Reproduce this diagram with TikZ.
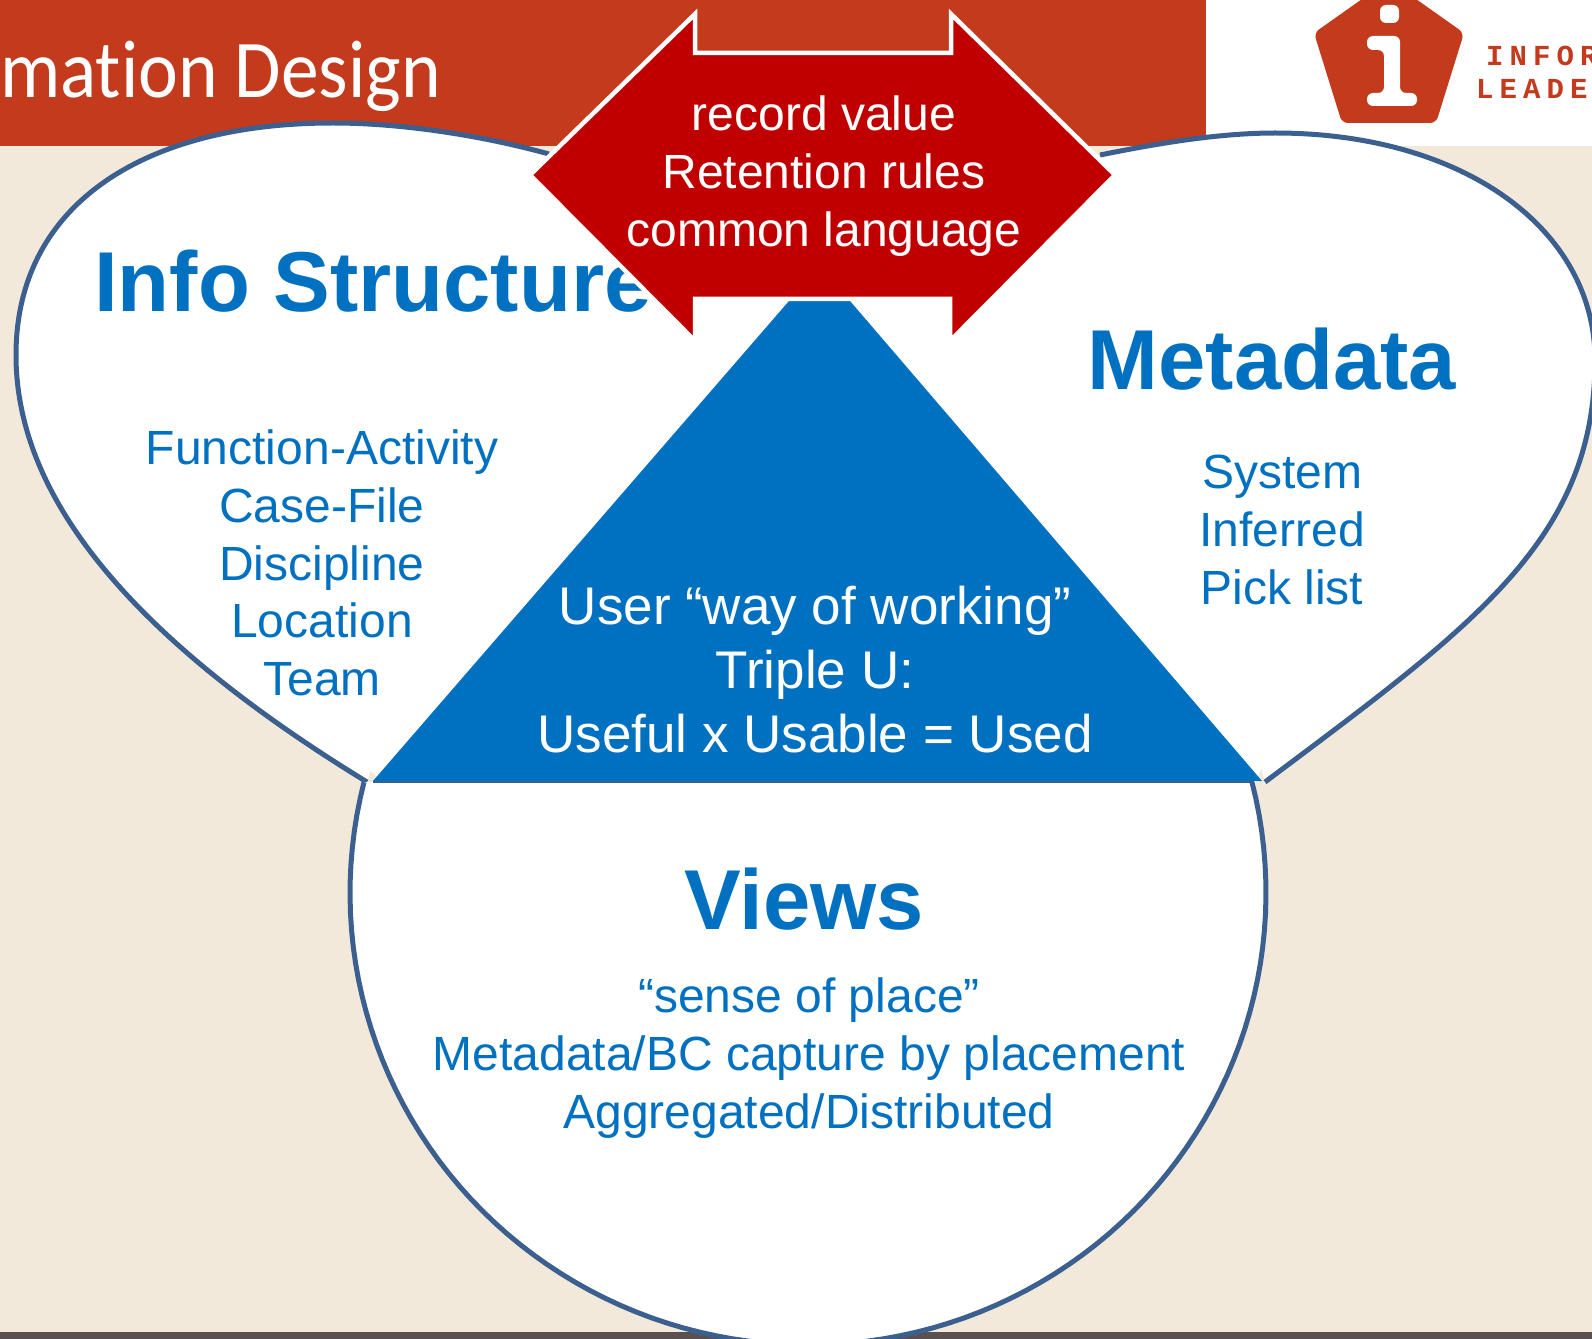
\documentclass[tikz,border=0pt]{standalone}
\usepackage{fontspec}
\setmainfont{Liberation Sans}
\newfontfamily\titlefont[FakeStretch=0.92,Ligatures=NoCommon]{Carlito}
\newfontfamily\logofont[LetterSpace=21]{Liberation Mono}
\definecolor{bannerred}{HTML}{C33A1C}
\definecolor{beige}{HTML}{F2E9DA}
\definecolor{barcol}{HTML}{5A5050}
\definecolor{lobeline}{HTML}{3B5F8F}
\definecolor{ablue}{HTML}{0070C0}
\definecolor{darkred}{HTML}{C00000}
\tikzset{
  lobe/.style={draw=lobeline,line width=5bp,fill=white},
  headtext/.style={text=ablue,anchor=base,inner sep=0pt,font=\fontsize{85bp}{100bp}\selectfont\bfseries},
  bodytext/.style={text=ablue,align=center,inner sep=0pt,font=\fontsize{48bp}{57.6bp}\selectfont},
  logotext/.style={anchor=base west,inner sep=0pt,text=bannerred,font=\fontsize{29bp}{29bp}\logofont\bfseries},
}
\begin{document}
\begin{tikzpicture}[x=1bp,y=-1bp]
\useasboundingbox (0,0) rectangle (1592,1339);
\fill[beige] (0,0) rectangle (1592,1339);
\fill[barcol] (0,1332) rectangle (1592,1339);
\fill[white] (1206,0) rectangle (1592,146);
\fill[bannerred] (0,0) rectangle (1206,146);
% logo
\fill[bannerred,rounded corners=6bp] (1389,-20) -- (1464,33) -- (1436,123) -- (1342,123) -- (1314,33) -- cycle;
\fill[white,rounded corners=6bp] (1380,5) rectangle (1399,23);
\fill[white,rounded corners=6bp] (1367,36) -- (1400,36) -- (1400,93) -- (1417,93) -- (1417,106) -- (1367,106) -- (1367,93) -- (1384,93) -- (1384,50) -- (1367,50) -- cycle;
\node[logotext] (logoa) at (1486,66) {INFOR};
\node[logotext] (logob) at (1476,99) {LEADE};
% title
\node[anchor=base east,inner sep=0pt,text=white,font=\fontsize{82bp}{82bp}\titlefont] (title) at (441,98) {mation Design};
% white interior
\fill[white] (340,740) -- (500,160) -- (1150,160) -- (1300,660) -- (1250,800) -- (400,800) -- cycle;
% lobes
\path[lobe] (367,782) .. controls (112,626) and (16,485) .. (16,355)
  .. controls (16,205) and (143,123) .. (333,123)
  .. controls (400,123) and (480,135) .. (549,154);
\path[lobe] (1265,782) .. controls (1473,626) and (1595,540) .. (1595,360)
  .. controls (1595,230) and (1465,133) .. (1275,133)
  .. controls (1215,133) and (1150,145) .. (1100,155);
\path[lobe] plot[domain=194.2:-14.2,samples=100] ({808+458*cos(\x)},{893+452*sin(\x)});
% headings and lists
\node[headtext,anchor=base west] (infohead) at (94,312) {Info Structure};
\node[headtext] (metahead) at (1272,389) {Metadata};
\node[headtext] (viewhead) at (804,929) {Views};
\node[bodytext] (infolist) at (322,563) {Function-Activity\\Case-File\\Discipline\\Location\\Team};
\node[bodytext] (metalist) at (1282,530) {System\\Inferred\\Pick list};
\node[bodytext] (viewlist) at (809,1058) {“sense of place”\\Metadata/BC capture by placement\\Aggregated/Distributed};
% triangle
\draw[lobeline,line width=2.5bp] (373,782) -- (1254,782);
\fill[ablue] (789,301) -- (850,301) -- (1262,781) -- (373,781) -- cycle;
\node[text=white,align=center,inner sep=0pt,font=\fontsize{53bp}{64bp}\selectfont] (tritext) at (815,670) {User “way of working”\\Triple U:\\Useful x Usable = Used};
% double arrow
\fill[darkred,draw=white,line width=4.5bp,miter limit=10] (530,175) -- (695,14) -- (695,53) -- (951,53) -- (951,14) -- (1115,175) -- (950,341) -- (950,299) -- (695,299) -- (695,341) -- cycle;
\node[text=white,align=center,inner sep=0pt,font=\fontsize{48bp}{57.6bp}\selectfont] (arrowtext) at (824,176) {record value\\Retention rules\\common language};
\end{tikzpicture}
\end{document}
